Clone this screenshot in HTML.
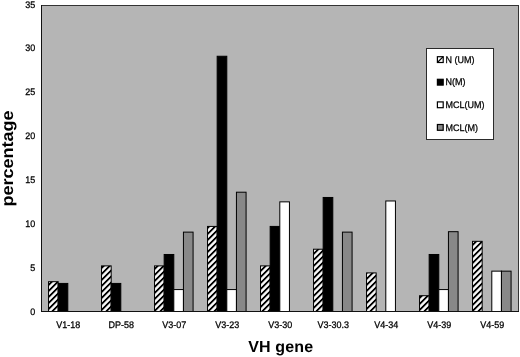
<!DOCTYPE html>
<html><head><meta charset="utf-8"><style>
html,body{margin:0;padding:0;background:#fff;}
svg{display:block;text-rendering:geometricPrecision;font-family:"Liberation Sans",Arial,sans-serif;}
.s{stroke:#000;stroke-width:0.25px;}
</style></head><body>
<svg width="520" height="357" viewBox="0 0 520 357">
<defs><pattern id="hatch" patternUnits="userSpaceOnUse" width="4.2426" height="4.2426" patternTransform="rotate(45)">
<rect width="4.2426" height="4.2426" fill="#fff"/><rect x="1.6617" width="1.8385" height="4.2426" fill="#000"/></pattern></defs>
<rect width="520" height="357" fill="#fff"/>
<rect x="41" y="5" width="478" height="307" fill="#b5b5b5"/>
<rect x="41" y="5" width="478" height="1" fill="#333"/>
<rect x="518" y="5" width="1" height="307" fill="#333"/>
<rect x="48.53" y="281.68" width="9.64" height="29.82" fill="url(#hatch)" stroke="#000" stroke-width="1"/>
<rect x="58.16" y="283.43" width="9.64" height="28.07" fill="#000" stroke="#000" stroke-width="1"/>
<text transform="translate(68.30 327.9) scale(1 1.05)" class="s" font-size="9" text-anchor="middle">V1-18</text>
<rect x="101.53" y="265.89" width="9.64" height="45.61" fill="url(#hatch)" stroke="#000" stroke-width="1"/>
<rect x="111.16" y="283.43" width="9.64" height="28.07" fill="#000" stroke="#000" stroke-width="1"/>
<text transform="translate(121.30 327.9) scale(1 1.05)" class="s" font-size="9" text-anchor="middle">DP-58</text>
<rect x="154.53" y="265.89" width="9.64" height="45.61" fill="url(#hatch)" stroke="#000" stroke-width="1"/>
<rect x="164.16" y="254.49" width="9.64" height="57.01" fill="#000" stroke="#000" stroke-width="1"/>
<rect x="173.80" y="289.57" width="9.64" height="21.93" fill="#fff" stroke="#000" stroke-width="1"/>
<rect x="183.44" y="232.12" width="9.64" height="79.38" fill="#888888" stroke="#000" stroke-width="1"/>
<text transform="translate(174.30 327.9) scale(1 1.05)" class="s" font-size="9" text-anchor="middle">V3-07</text>
<rect x="207.53" y="226.42" width="9.64" height="85.08" fill="url(#hatch)" stroke="#000" stroke-width="1"/>
<rect x="217.16" y="56.25" width="9.64" height="255.25" fill="#000" stroke="#000" stroke-width="1"/>
<rect x="226.80" y="289.57" width="9.64" height="21.93" fill="#fff" stroke="#000" stroke-width="1"/>
<rect x="236.44" y="192.21" width="9.64" height="119.29" fill="#888888" stroke="#000" stroke-width="1"/>
<text transform="translate(227.30 327.9) scale(1 1.05)" class="s" font-size="9" text-anchor="middle">V3-23</text>
<rect x="260.53" y="265.89" width="9.64" height="45.61" fill="url(#hatch)" stroke="#000" stroke-width="1"/>
<rect x="270.16" y="226.42" width="9.64" height="85.08" fill="#000" stroke="#000" stroke-width="1"/>
<rect x="279.80" y="201.86" width="9.64" height="109.64" fill="#fff" stroke="#000" stroke-width="1"/>
<text transform="translate(280.30 327.9) scale(1 1.05)" class="s" font-size="9" text-anchor="middle">V3-30</text>
<rect x="313.53" y="249.22" width="9.64" height="62.28" fill="url(#hatch)" stroke="#000" stroke-width="1"/>
<rect x="323.16" y="197.47" width="9.64" height="114.03" fill="#000" stroke="#000" stroke-width="1"/>
<rect x="342.44" y="232.12" width="9.64" height="79.38" fill="#888888" stroke="#000" stroke-width="1"/>
<text transform="translate(333.30 327.9) scale(1 1.05)" class="s" font-size="9" text-anchor="middle">V3-30.3</text>
<rect x="366.53" y="272.91" width="9.64" height="38.59" fill="url(#hatch)" stroke="#000" stroke-width="1"/>
<rect x="385.80" y="200.98" width="9.64" height="110.52" fill="#fff" stroke="#000" stroke-width="1"/>
<text transform="translate(386.30 327.9) scale(1 1.05)" class="s" font-size="9" text-anchor="middle">V4-34</text>
<rect x="419.53" y="295.71" width="9.64" height="15.79" fill="url(#hatch)" stroke="#000" stroke-width="1"/>
<rect x="429.16" y="254.49" width="9.64" height="57.01" fill="#000" stroke="#000" stroke-width="1"/>
<rect x="438.80" y="289.57" width="9.64" height="21.93" fill="#fff" stroke="#000" stroke-width="1"/>
<rect x="448.44" y="231.68" width="9.64" height="79.82" fill="#888888" stroke="#000" stroke-width="1"/>
<text transform="translate(439.30 327.9) scale(1 1.05)" class="s" font-size="9" text-anchor="middle">V4-39</text>
<rect x="472.53" y="241.33" width="9.64" height="70.17" fill="url(#hatch)" stroke="#000" stroke-width="1"/>
<rect x="491.80" y="271.15" width="9.64" height="40.35" fill="#fff" stroke="#000" stroke-width="1"/>
<rect x="501.44" y="271.15" width="9.64" height="40.35" fill="#888888" stroke="#000" stroke-width="1"/>
<text transform="translate(492.30 327.9) scale(1 1.05)" class="s" font-size="9" text-anchor="middle">V4-59</text>
<rect x="41" y="5" width="1" height="307" fill="#111"/>
<rect x="41" y="311" width="478" height="1" fill="#111"/>
<text transform="translate(35.3 314.50) scale(1 1.05)" class="s" font-size="9" text-anchor="end">0</text>
<text transform="translate(35.3 270.64) scale(1 1.05)" class="s" font-size="9" text-anchor="end">5</text>
<text transform="translate(35.3 226.79) scale(1 1.05)" class="s" font-size="9" text-anchor="end">10</text>
<text transform="translate(35.3 182.93) scale(1 1.05)" class="s" font-size="9" text-anchor="end">15</text>
<text transform="translate(35.3 139.07) scale(1 1.05)" class="s" font-size="9" text-anchor="end">20</text>
<text transform="translate(35.3 95.22) scale(1 1.05)" class="s" font-size="9" text-anchor="end">25</text>
<text transform="translate(35.3 51.36) scale(1 1.05)" class="s" font-size="9" text-anchor="end">30</text>
<text transform="translate(35.3 7.50) scale(1 1.05)" class="s" font-size="9" text-anchor="end">35</text>
<text transform="translate(12.9 158.5) rotate(-90) scale(1.09 1)" font-size="16.5" font-weight="bold" letter-spacing="0" text-anchor="middle">percentage</text>
<text x="280.8" y="352.0" font-size="16" font-weight="bold" letter-spacing="0.15" text-anchor="middle">VH gene</text>
<rect x="426.5" y="48.5" width="67" height="91" fill="#fff" stroke="#2a2a2a" stroke-width="1"/>
<rect x="437.4" y="56.70" width="5.8" height="5.8" fill="#fff" stroke="#000" stroke-width="1.2"/>
<line x1="437.4" y1="62.50" x2="443.2" y2="56.70" stroke="#000" stroke-width="1.2"/>
<text transform="translate(445.6 62.80) scale(1 1.05)" class="s" font-size="9">N (UM)</text>
<rect x="437.4" y="79.30" width="5.8" height="5.8" fill="#000" stroke="#000" stroke-width="1.2"/>
<text transform="translate(445.6 85.40) scale(1 1.05)" class="s" font-size="9">N(M)</text>
<rect x="437.4" y="101.90" width="5.8" height="5.8" fill="#fff" stroke="#000" stroke-width="1.2"/>
<text transform="translate(445.6 108.00) scale(1 1.05)" class="s" font-size="9">MCL(UM)</text>
<rect x="437.4" y="124.50" width="5.8" height="5.8" fill="#888888" stroke="#000" stroke-width="1.2"/>
<text transform="translate(445.6 130.60) scale(1 1.05)" class="s" font-size="9">MCL(M)</text>
</svg>
</body></html>
